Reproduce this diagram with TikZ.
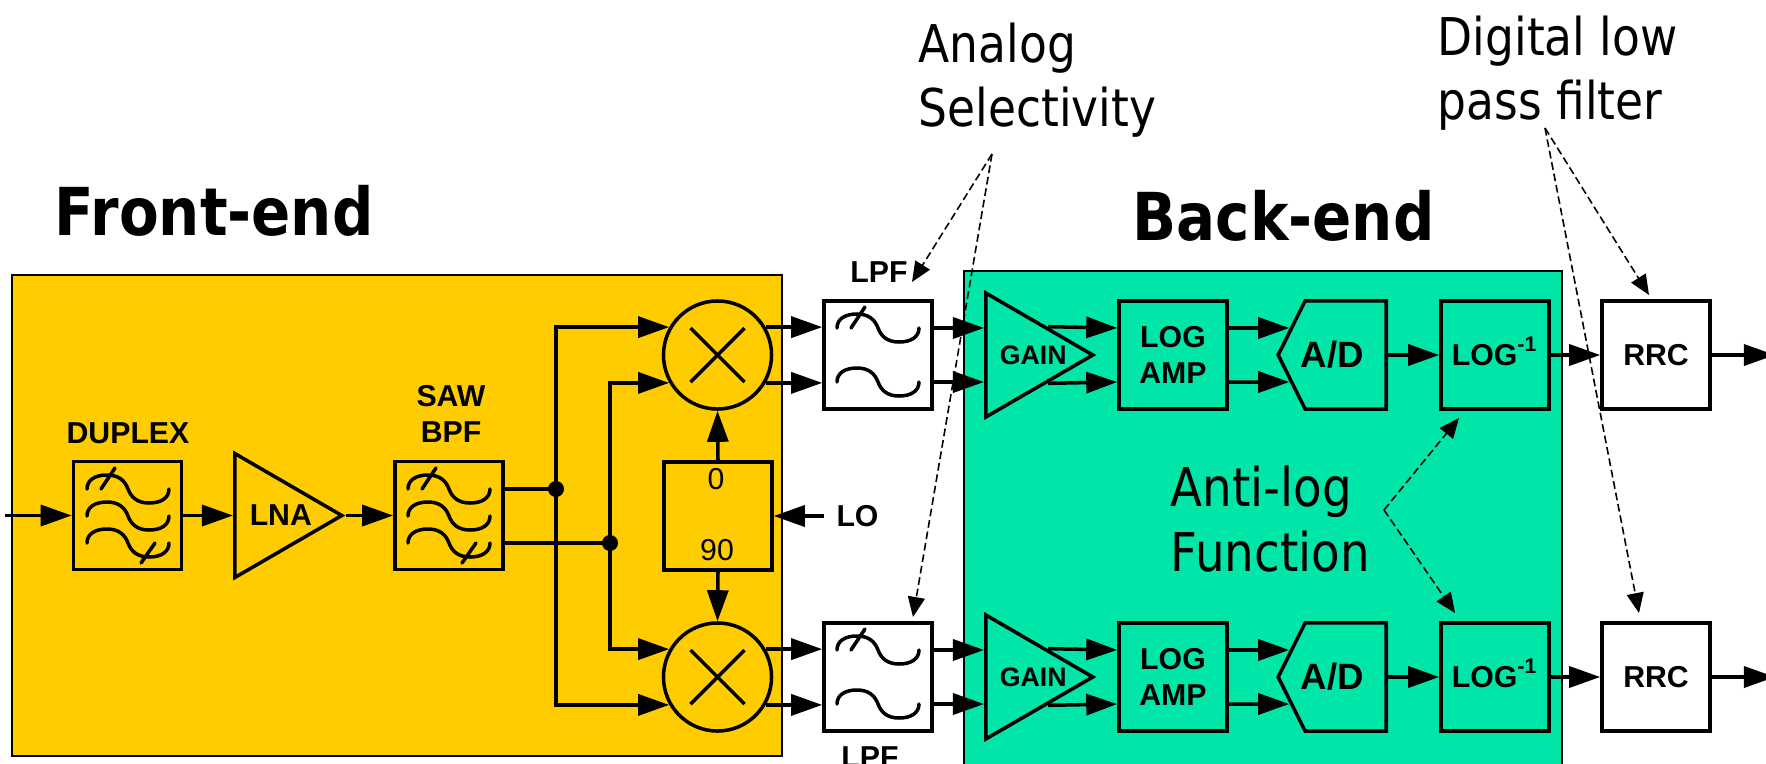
\documentclass[tikz,border=0pt]{standalone}
\usepackage{fontspec}
\setmainfont{Liberation Sans}
\newfontfamily\notefont[FakeStretch=.875]{DejaVu Sans}
\usetikzlibrary{arrows.meta,calc,shapes.geometric,shapes.symbols}
\definecolor{frontcol}{HTML}{FFCC00}
\definecolor{backcol}{HTML}{00E5A8}
\tikzset{
	block/.style={draw,line width=1pt,minimum width=1.08cm,minimum height=1.08cm,inner sep=0pt,align=center,font=\bfseries\fontsize{8.6}{10.4}\selectfont},
	amp/.style={draw,line width=1pt,isosceles triangle,isosceles triangle stretches,minimum height=1.07cm,minimum width=1.24cm,inner sep=0pt,anchor=lower side,font=\bfseries\fontsize{8.6}{10.4}\selectfont},
	adc/.style={draw,line width=1pt,signal,signal to=west,signal pointer angle=127,minimum width=1.08cm,minimum height=1.08cm,inner sep=0pt,anchor=east,font=\bfseries\fontsize{10.4}{12}\selectfont},
	mixer/.style={draw,line width=1pt,circle,minimum size=1.08cm,inner sep=0pt},
	dot/.style={fill,circle,minimum size=.16cm,inner sep=0pt},
	tag/.style={align=center,font=\bfseries\fontsize{8.6}{10.4}\selectfont},
	note/.style={inner sep=0pt,align=left,anchor=north west,font=\notefont\fontsize{14.8}{18.4}\selectfont},
	title/.style={inner sep=0pt,anchor=base west,font=\notefont\bfseries\fontsize{18.8}{22}\selectfont},
	wire/.style={->,line width=1pt},
	lead/.style={-{Triangle[length=.2cm,width=.17cm]},line width=.45pt,dash pattern=on 2.2pt off 1.1pt},
	wave/.pic={\draw[line width=1pt,line cap=round] (0,0) .. controls (0,-9) and (8,-14) .. (20,-14) .. controls (32,-14) and (38,-8) .. (41,0) .. controls (44,8) and (50,14) .. (62,14) .. controls (74,14) and (82,9) .. (82,0);},
	tickup/.pic={\draw[line width=1pt,line cap=round] (14,0) -- (28,-21);},
	tickdown/.pic={\draw[line width=1pt,line cap=round] (54,20) -- (68,0);}
}
\begin{document}
\begin{tikzpicture}[>={Triangle[length=.31cm,width=.21cm]},x=.01cm,y=-.01cm]
	\clip (0,0) rectangle (1766,763);
	\fill[white] (0,0) rectangle (1766,763);
	% panels
	\draw[fill=frontcol,line width=.4pt] (12,275) rectangle (782,756);
	\draw[fill=backcol,line width=.4pt] (964,271) rectangle (1562,790);
	\node[title] (front) at (54,235) {Front-end};
	\node[title] (back) at (1132,240) {Back-end};
	% front-end
	\coordinate (in) at (5,515.5);
	\node[block] (duplex) at (127.5,515.5) {};
	\node[amp] (lna) at (233,515.5) {\hspace*{.09cm}LNA};
	\node[block] (saw) at (449,515.5) {};
	\node[tag] (duplextag) at (128,433) {DUPLEX};
	\node[tag] (sawtag) at (451,414) {SAW\\BPF};
	\foreach \y in {489,516,543} {
		\pic at (87,\y) {wave};
		\pic at (408,\y) {wave};
	}
	\pic at (87,489) {tickup};
	\pic at (408,489) {tickup};
	\pic at (87,543) {tickdown};
	\pic at (408,543) {tickdown};
	\node[dot] (ja) at (556,489) {};
	\node[dot] (jb) at (610,543) {};
	\node[mixer] (mixa) at (717.5,355) {};
	\node[mixer] (mixb) at (717.5,677) {};
	\node[block] (split) at (718,516) {};
	\node[font=\fontsize{8.6}{10}\selectfont] (zero) at (716,479) {0};
	\node[font=\fontsize{8.6}{10}\selectfont] (ninety) at (717,550) {90};
	\node[tag] (lo) at (857.5,516) {LO};
	\draw[line width=1pt] ([shift={(-27,-27)}]mixa.center) -- ([shift={(27,27)}]mixa.center);
	\draw[line width=1pt] ([shift={(-27,27)}]mixa.center) -- ([shift={(27,-27)}]mixa.center);
	\draw[line width=1pt] ([shift={(-27,-27)}]mixb.center) -- ([shift={(27,27)}]mixb.center);
	\draw[line width=1pt] ([shift={(-27,27)}]mixb.center) -- ([shift={(27,-27)}]mixb.center);
	\draw[wire] (in) -- (duplex.west);
	\draw[wire] (duplex.east) -- (lna.lower side);
	\draw[wire] (lna.apex) -- (saw.west);
	\draw[line width=1pt] (saw.east |- ja) -- (ja.center);
	\draw[line width=1pt] (saw.east |- jb) -- (jb.center);
	\draw[wire] (ja.center) |- (mixa.150);
	\draw[wire] (ja.center) |- (mixb.210);
	\draw[wire] (jb.center) |- (mixa.210);
	\draw[wire] (jb.center) |- (mixb.150);
	\draw[wire] (split.north) -- (mixa.south);
	\draw[wire] (split.south) -- (mixb.north);
	\draw[wire] (lo.west) -- (split.east);
	% filters
	\node[block] (lpfa) at (878,355) {};
	\node[block] (lpfb) at (878,677) {};
	\node[tag] (lpfatag) at (879,272) {LPF};
	\node[tag] (lpfbtag) at (870,757) {LPF};
	\foreach \y in {328,382,650,704} {
		\pic at (837,\y) {wave};
	}
	\pic at (837,328) {tickup};
	\pic at (837,650) {tickup};
	% back-end
	\node[amp,font=\bfseries\fontsize{7.6}{10}\selectfont] (gaina) at (984,355) {\hspace*{.09cm}GAIN};
	\node[amp,font=\bfseries\fontsize{7.6}{10}\selectfont] (gainb) at (984,677) {\hspace*{.09cm}GAIN};
	\node[block] (loga) at (1173,355) {LOG\\AMP};
	\node[block] (logb) at (1173,677) {LOG\\AMP};
	\node[adc] (ada) at (1388,355) {\hspace*{-.06cm}A/D\hspace*{.21cm}};
	\node[adc] (adb) at (1388,677) {\hspace*{-.06cm}A/D\hspace*{.21cm}};
	\node[block] (inva) at (1495,355) {LOG\smash{\textsuperscript{-1}}};
	\node[block] (invb) at (1495,677) {LOG\smash{\textsuperscript{-1}}};
	\node[block] (rrca) at (1656,355) {RRC};
	\node[block] (rrcb) at (1656,677) {RRC};
	\coordinate (outa) at (1775,355);
	\coordinate (outb) at (1775,677);
	\draw[wire] (mixa.30) -- (mixa.30 -| lpfa.west);
	\draw[wire] (mixa.-30) -- (mixa.-30 -| lpfa.west);
	\draw[wire] (mixb.30) -- (mixb.30 -| lpfb.west);
	\draw[wire] (mixb.-30) -- (mixb.-30 -| lpfb.west);
	\draw[wire] ([yshift=.27cm]lpfa.east) -- ([yshift=.27cm]gaina.lower side);
	\draw[wire] ([yshift=-.27cm]lpfa.east) -- ([yshift=-.27cm]gaina.lower side);
	\draw[wire] ([yshift=.27cm]lpfb.east) -- ([yshift=.27cm]gainb.lower side);
	\draw[wire] ([yshift=-.27cm]lpfb.east) -- ([yshift=-.27cm]gainb.lower side);
	\draw[wire] ($(gaina.apex)!.435!(gaina.left corner)$) -- ([yshift=.27cm]loga.west);
	\draw[wire] ($(gaina.apex)!.435!(gaina.right corner)$) -- ([yshift=-.27cm]loga.west);
	\draw[wire] ($(gainb.apex)!.435!(gainb.left corner)$) -- ([yshift=.27cm]logb.west);
	\draw[wire] ($(gainb.apex)!.435!(gainb.right corner)$) -- ([yshift=-.27cm]logb.west);
	\draw[wire] ([yshift=.27cm]loga.east) -- ($(ada.west)+(13,-27)$);
	\draw[wire] ([yshift=-.27cm]loga.east) -- ($(ada.west)+(13,27)$);
	\draw[wire] ([yshift=.27cm]logb.east) -- ($(adb.west)+(13,-27)$);
	\draw[wire] ([yshift=-.27cm]logb.east) -- ($(adb.west)+(13,27)$);
	\draw[wire] (ada.east) -- (inva.west);
	\draw[wire] (adb.east) -- (invb.west);
	\draw[wire] (inva.east) -- (rrca.west);
	\draw[wire] (invb.east) -- (rrcb.west);
	\draw[wire] (rrca.east) -- (outa);
	\draw[wire] (rrcb.east) -- (outb);
	% notes
	\node[note] (analog) at (918,22) {Analog\\Selectivity};
	\node[note] (digital) at (1437,15) {Digital low\\pass filter};
	\node[note,font=\notefont\fontsize{15.2}{18.4}\selectfont] (antilog) at (1170,465) {Anti-log\\Function};
	\coordinate (sela) at (992,154);
	\coordinate (diga) at (1545,128);
	\coordinate (anta) at (1384,510);
	\draw[lead] (sela) -- (912,282);
	\draw[lead] (sela) -- (913,617);
	\draw[lead] (diga) -- (1649,295);
	\draw[lead] (diga) -- (1639,613);
	\draw[lead] (anta) -- (1459,418);
	\draw[lead] (anta) -- (1455,613);
\end{tikzpicture}
\end{document}
